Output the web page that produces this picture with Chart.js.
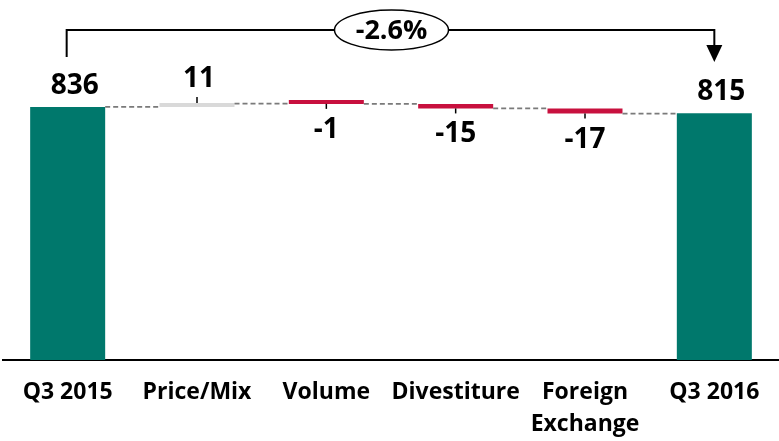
<!DOCTYPE html>
<html>
<head>
<meta charset="utf-8">
<script src="https://cdn.jsdelivr.net/npm/chart.js@4/dist/chart.umd.min.js"></script>
<style>
  html, body { margin: 0; padding: 0; background: #fff; }
  canvas { display: block; }
</style>
</head>
<body>
<canvas id="c" width="779" height="441"></canvas>
<script>
// Bridge from Q3 2015 to Q3 2016
const categories = ['Q3 2015', 'Price/Mix', 'Volume', 'Divestiture', ['Foreign', 'Exchange'], 'Q3 2016'];
const startTotal = 836;
const changes = [11, -1, -15, -17];
const endTotal = 815;
const changeLabel = '-2.6%';

const TEAL = '#00786C';
const GREY = '#D9D9D9';
const RED = '#C8103E';
const FONT = '"Open Sans", "DejaVu Sans", sans-serif';

// Floating ranges: totals start at zero, changes run from the previous subtotal
const ranges = [[0, startTotal]];
const colors = [TEAL];
let running = startTotal;
changes.forEach(d => {
  ranges.push([running, running + d]);
  running += d;
  colors.push(d >= 0 ? GREY : RED);
});
ranges.push([0, endTotal]);
colors.push(TEAL);
const printed = [startTotal, ...changes, endTotal];

const bridgeDecor = {
  id: 'bridgeDecor',
  afterDatasetsDraw(chart) {
    const ctx = chart.ctx;
    const y = chart.scales.y;
    const bars = chart.getDatasetMeta(0).data;
    const last = bars.length - 1;
    ctx.save();

    // dashed connectors between subtotal levels
    ctx.strokeStyle = '#7A7A7A';
    ctx.lineWidth = 1.8;
    ctx.setLineDash([5, 3]);
    for (let i = 0; i < last; i++) {
      const level = ranges[i][1];
      const py = y.getPixelForValue(level);
      ctx.beginPath();
      ctx.moveTo(bars[i].x + bars[i].width / 2, py);
      ctx.lineTo(bars[i + 1].x - bars[i + 1].width / 2, py);
      ctx.stroke();
    }
    ctx.setLineDash([]);

    // value labels and small leaders
    ctx.fillStyle = '#000';
    ctx.strokeStyle = '#000';
    ctx.lineWidth = 1.5;
    ctx.textAlign = 'center';
    ctx.textBaseline = 'middle';
    ctx.font = 'bold 28px ' + FONT;
    bars.forEach((bar, i) => {
      const top = Math.min(bar.y, bar.base);
      const bottom = Math.max(bar.y, bar.base);
      const v = printed[i];
      if (i === 0 || i === last) {
        ctx.fillText(String(v), bar.x + 7, top - 21);
      } else if (v >= 0) {
        ctx.beginPath();
        ctx.moveTo(bar.x, top);
        ctx.lineTo(bar.x, top - 6);
        ctx.stroke();
        ctx.fillText(String(v), bar.x + 2, top - 24);
      } else {
        ctx.beginPath();
        ctx.moveTo(bar.x, bottom);
        ctx.lineTo(bar.x, bottom + 5);
        ctx.stroke();
        ctx.fillText(String(v), bar.x, bottom + 26);
      }
    });

    // overall change bracket
    const x0 = bars[0].x - 1;
    const x1 = bars[last].x;
    const lineY = 30;
    ctx.lineWidth = 2;
    ctx.beginPath();
    ctx.moveTo(x0, 57);
    ctx.lineTo(x0, lineY);
    ctx.lineTo(x1, lineY);
    ctx.lineTo(x1, 46);
    ctx.stroke();
    ctx.beginPath();
    ctx.moveTo(x1 - 8, 45);
    ctx.lineTo(x1 + 8, 45);
    ctx.lineTo(x1, 62);
    ctx.closePath();
    ctx.fill();

    const cx = (x0 + x1) / 2 + 1;
    ctx.beginPath();
    ctx.ellipse(cx, lineY, 57, 20, 0, 0, Math.PI * 2);
    ctx.fillStyle = '#fff';
    ctx.fill();
    ctx.lineWidth = 1.5;
    ctx.stroke();
    ctx.fillStyle = '#000';
    ctx.font = 'bold 27px ' + FONT;
    ctx.fillText(changeLabel, cx, lineY + 1);
    ctx.restore();
  }
};

function draw() {
  new Chart(document.getElementById('c'), {
    type: 'bar',
    data: {
      labels: categories,
      datasets: [{
        data: ranges,
        backgroundColor: colors,
        borderWidth: 0,
        minBarLength: 4,
        categoryPercentage: 1,
        barPercentage: 0.58
      }]
    },
    options: {
      responsive: false,
      animation: false,
      layout: { padding: { top: 27, left: 3, right: 0, bottom: 0 } },
      plugins: { legend: { display: false }, tooltip: { enabled: false } },
      scales: {
        x: {
          grid: { display: false, drawTicks: false },
          border: { display: true, color: '#000', width: 2 },
          ticks: {
            color: '#000',
            font: { family: FONT, weight: 'bold', size: 23, lineHeight: 1.4 },
            padding: 16,
            maxRotation: 0,
            autoSkip: false
          },
          afterFit(scale) { scale.height = 81; }
        },
        y: { display: false, min: 0, max: 1100 }
      }
    },
    plugins: [bridgeDecor]
  });
}

if (document.fonts && document.fonts.load) {
  document.fonts.load('bold 23px "Open Sans"').then(draw, draw);
} else {
  draw();
}
</script>
</body>
</html>
